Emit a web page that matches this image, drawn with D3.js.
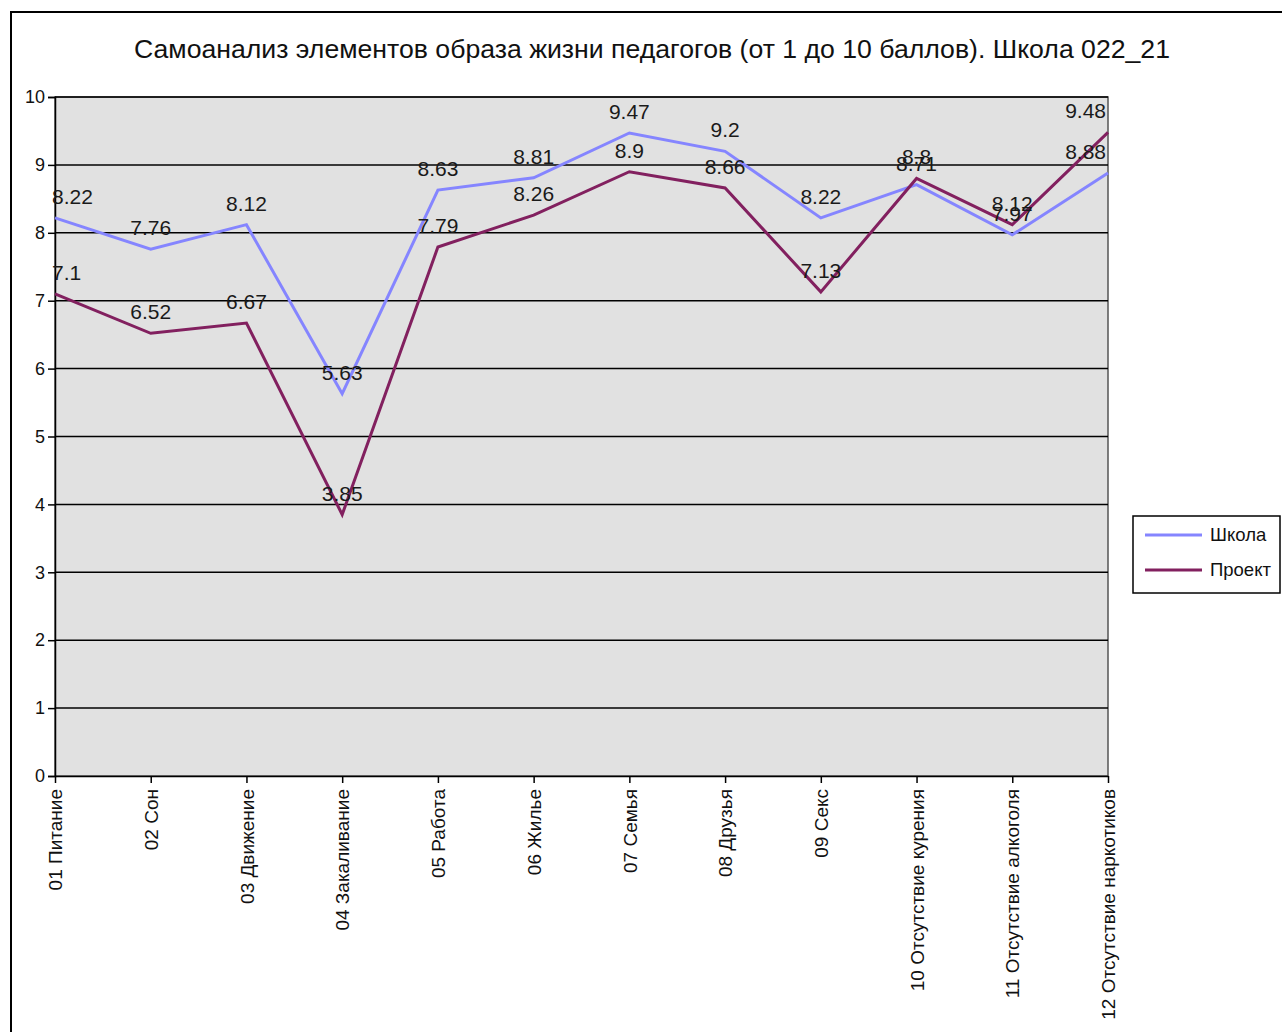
<!DOCTYPE html>
<html>
<head>
<meta charset="utf-8">
<script src="https://d3js.org/d3.v7.min.js"></script>
<style>
  body { margin: 0; background: #fff; }
  svg { font-family: "Liberation Sans", Arial, sans-serif; }
</style>
</head>
<body>
<svg id="chart" width="1282" height="1032"></svg>
<script>
var categories = ["01 Питание", "02 Сон", "03 Движение", "04 Закаливание", "05 Работа", "06 Жилье",
  "07 Семья", "08 Друзья", "09 Секс", "10 Отсутствие курения", "11 Отсутствие алкоголя", "12 Отсутствие наркотиков"];
var schoolValues = [8.22, 7.76, 8.12, 5.63, 8.63, 8.81, 9.47, 9.2, 8.22, 8.71, 7.97, 8.88];
var projectValues = [7.1, 6.52, 6.67, 3.85, 7.79, 8.26, 8.9, 8.66, 7.13, 8.8, 8.12, 9.48];
var yTicks = [0, 1, 2, 3, 4, 5, 6, 7, 8, 9, 10];
var seriesNames = ["Школа", "Проект"];

(function () {
var svg = d3.select("#chart");
var pLeft = 55, pRight = 1108, pTop = 97, pBottom = 776;

// outer chart frame
svg.append("rect").attr("x", 11).attr("y", 12).attr("width", 1400).attr("height", 1100)
  .attr("fill", "none").attr("stroke", "#000").attr("stroke-width", 2);

svg.append("text").attr("x", 652).attr("y", 58).attr("text-anchor", "middle")
  .attr("font-size", 26).attr("fill", "#111")
  .attr("textLength", 1036).attr("lengthAdjust", "spacingAndGlyphs")
  .text("Самоанализ элементов образа жизни педагогов (от 1 до 10 баллов). Школа 022_21");

var x = d3.scalePoint().domain(categories).range([pLeft, pRight]);
var y = d3.scaleLinear().domain([0, 10]).range([pBottom, pTop]);

svg.append("rect").attr("x", pLeft).attr("y", pTop).attr("width", pRight - pLeft).attr("height", pBottom - pTop)
  .attr("fill", "#e1e1e1").attr("stroke", "#555").attr("stroke-width", 1.5);

// gridlines
svg.append("g").selectAll("line").data(yTicks.slice(1)).enter().append("line")
  .attr("x1", pLeft).attr("x2", pRight)
  .attr("y1", function(d){ return y(d); }).attr("y2", function(d){ return y(d); })
  .attr("stroke", "#000").attr("stroke-width", 1.5);

var yAxis = svg.append("g").attr("transform", "translate(" + pLeft + ",0)")
  .call(d3.axisLeft(y).tickValues(yTicks).tickSize(7).tickPadding(3));
yAxis.select(".domain").attr("stroke", "#000").attr("stroke-width", 1.5);
yAxis.selectAll("line").attr("stroke-width", 1.5);
yAxis.selectAll("text").attr("font-size", 18).attr("font-family", "Liberation Sans").attr("fill", "#111");

var xAxis = svg.append("g").attr("transform", "translate(0," + pBottom + ")")
  .call(d3.axisBottom(x).tickSize(7).tickSizeOuter(0));
xAxis.select(".domain").attr("stroke", "#000").attr("stroke-width", 1.5);
xAxis.selectAll("line").attr("stroke-width", 1.5);
xAxis.selectAll("text")
  .attr("font-size", 19).attr("font-family", "Liberation Sans").attr("fill", "#111")
  .attr("transform", "rotate(-90)")
  .attr("text-anchor", "end").attr("x", -13).attr("y", 0).attr("dy", "0.35em");

var series = [
  { name: seriesNames[0], values: schoolValues, color: "#8585ff" },
  { name: seriesNames[1], values: projectValues, color: "#82205f" }
];

var line = d3.line().x(function(d, i){ return x(categories[i]); }).y(function(d){ return y(d); });

series.forEach(function(s){
  svg.append("path").datum(s.values).attr("d", line)
    .attr("fill", "none").attr("stroke", s.color).attr("stroke-width", 3);
});

series.forEach(function(s){
  s.values.forEach(function(v, i){
    var t = svg.append("text").attr("font-size", 21).attr("fill", "#1a1a1a")
      .attr("text-anchor", "middle").attr("y", y(v) - 14).text(String(v));
    var w = t.node().getComputedTextLength();
    var cx = x(categories[i]);
    cx = Math.max(52 + w / 2, Math.min(1106 - w / 2, cx));
    t.attr("x", cx);
  });
});

// legend
var lg = svg.append("g");
lg.append("rect").attr("x", 1133).attr("y", 516).attr("width", 147).attr("height", 77)
  .attr("fill", "#fff").attr("stroke", "#000").attr("stroke-width", 1.5);
series.forEach(function(s, i){
  var ly = 535 + i * 35;
  lg.append("line").attr("x1", 1145).attr("x2", 1202).attr("y1", ly).attr("y2", ly)
    .attr("stroke", s.color).attr("stroke-width", 3);
  lg.append("text").attr("x", 1210).attr("y", ly).attr("dy", "0.35em")
    .attr("font-size", 18.5).attr("fill", "#111").text(s.name);
});
})();
</script>
</body>
</html>
